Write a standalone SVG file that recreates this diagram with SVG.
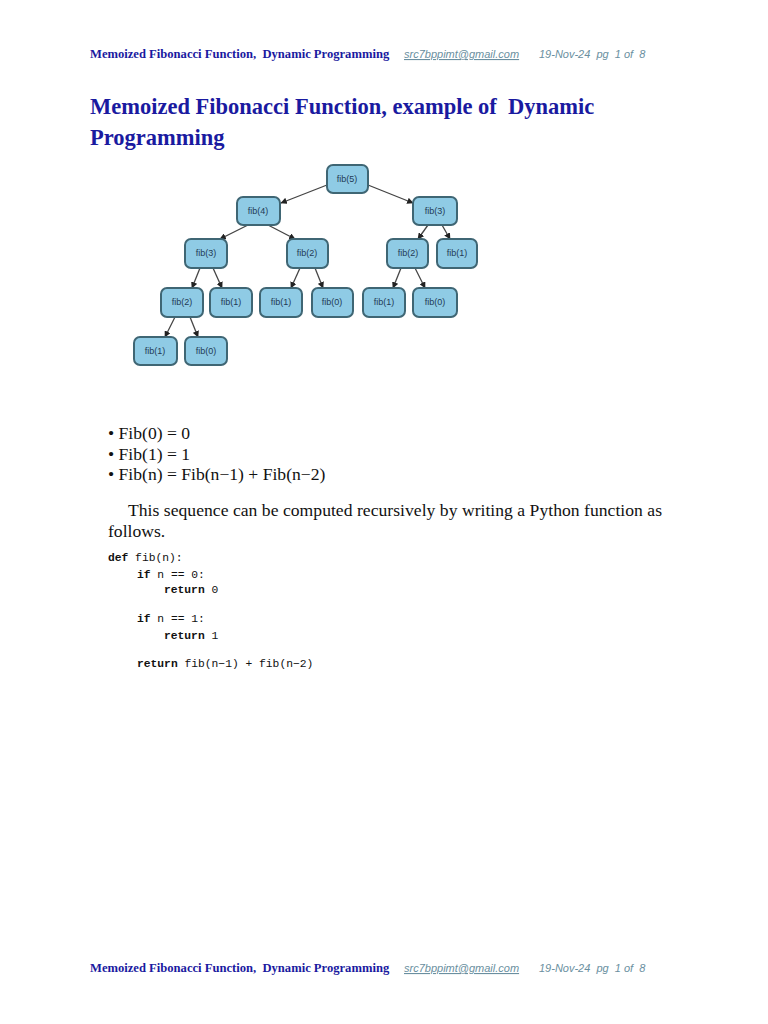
<svg xmlns="http://www.w3.org/2000/svg" width="768" height="1024" viewBox="0 0 768 1024">
<defs>
<marker id="ar" viewBox="0 0 10 10" refX="9" refY="5" markerWidth="5" markerHeight="5" orient="auto"><path d="M0,0 L10,5 L0,10 z" fill="#222"/></marker>
</defs>
<style>
.hd{font-family:"Liberation Serif",serif;font-weight:bold;font-size:12.6px;fill:#1a1aa0;white-space:pre}
.hm{font-family:"Liberation Sans",sans-serif;font-style:italic;font-size:11px;fill:#6a8fa0;white-space:pre}
.nd rect{fill:#8fcbe5;stroke:#3f6674;stroke-width:2}
.nd text{font-family:"Liberation Sans",sans-serif;font-size:9px;fill:#1f3a55;text-anchor:middle}
.cn line{stroke:#444;stroke-width:1.3;marker-end:url(#ar)}
.body{font-family:"Liberation Serif",serif;font-size:17.6px;fill:#111}
.code{font-family:"Liberation Mono",monospace;font-size:11.3px;fill:#111}
.kw{font-weight:bold}
</style>
<rect width="768" height="1024" fill="#fff"/>
<text class="hd" x="90" y="58">Memoized Fibonacci Function,  Dynamic Programming</text>
<text class="hm" x="404" y="58" text-decoration="underline">src7bppimt@gmail.com</text>
<text class="hm" x="539" y="58">19-Nov-24  pg  1 of  8</text>
<text font-family="Liberation Serif,serif" font-weight="bold" font-size="22.5" fill="#1a1aa0" x="90" y="114" style="white-space:pre">Memoized Fibonacci Function, example of  Dynamic</text>
<text font-family="Liberation Serif,serif" font-weight="bold" font-size="22.5" fill="#1a1aa0" x="90" y="145">Programming</text>
<g class="cn">
<line x1="327" y1="185" x2="281" y2="203"/>
<line x1="368" y1="185" x2="413" y2="203"/>
<line x1="248" y1="225" x2="220" y2="239"/>
<line x1="268" y1="225" x2="295" y2="239"/>
<line x1="428" y1="225" x2="418" y2="239"/>
<line x1="442" y1="225" x2="450" y2="239"/>
<line x1="200" y1="268" x2="192" y2="288"/>
<line x1="213" y1="268" x2="222" y2="288"/>
<line x1="300" y1="268" x2="291" y2="288"/>
<line x1="315" y1="268" x2="323" y2="288"/>
<line x1="401" y1="268" x2="393" y2="288"/>
<line x1="415" y1="268" x2="425" y2="288"/>
<line x1="175" y1="317" x2="165" y2="337"/>
<line x1="190" y1="317" x2="198" y2="337"/>
</g>
<g id="n5" class="nd"><rect x="327" y="165" width="41" height="28" rx="6"/><text x="347" y="182">fib(5)</text></g>
<g id="n4" class="nd"><rect x="237" y="197" width="43" height="28" rx="6"/><text x="258" y="214">fib(4)</text></g>
<g id="n3r" class="nd"><rect x="413" y="197" width="44" height="28" rx="6"/><text x="435" y="214">fib(3)</text></g>
<g id="n3" class="nd"><rect x="185" y="239" width="42" height="29" rx="6"/><text x="206" y="256">fib(3)</text></g>
<g id="n2a" class="nd"><rect x="287" y="239" width="41" height="29" rx="6"/><text x="307" y="256">fib(2)</text></g>
<g id="n2r" class="nd"><rect x="387" y="239" width="41" height="29" rx="6"/><text x="408" y="256">fib(2)</text></g>
<g id="n1r" class="nd"><rect x="437" y="239" width="40" height="29" rx="6"/><text x="457" y="256">fib(1)</text></g>
<g id="n2b" class="nd"><rect x="161" y="288" width="42" height="29" rx="6"/><text x="182" y="305">fib(2)</text></g>
<g id="n1a" class="nd"><rect x="210" y="288" width="42" height="29" rx="6"/><text x="231" y="305">fib(1)</text></g>
<g id="n1b" class="nd"><rect x="260" y="288" width="42" height="29" rx="6"/><text x="281" y="305">fib(1)</text></g>
<g id="n0a" class="nd"><rect x="312" y="288" width="41" height="29" rx="6"/><text x="332" y="305">fib(0)</text></g>
<g id="n1c" class="nd"><rect x="363" y="288" width="42" height="29" rx="6"/><text x="384" y="305">fib(1)</text></g>
<g id="n0b" class="nd"><rect x="413" y="288" width="44" height="29" rx="6"/><text x="435" y="305">fib(0)</text></g>
<g id="n1d" class="nd"><rect x="134" y="337" width="43" height="28" rx="6"/><text x="155" y="354">fib(1)</text></g>
<g id="n0c" class="nd"><rect x="185" y="337" width="42" height="28" rx="6"/><text x="206" y="354">fib(0)</text></g>
<text class="body" x="108" y="439">• Fib(0) = 0</text>
<text class="body" x="108" y="460">• Fib(1) = 1</text>
<text class="body" x="108" y="480">• Fib(n) = Fib(n−1) + Fib(n−2)</text>
<text class="body" x="128" y="516" textLength="534">This sequence can be computed recursively by writing a Python function as</text>
<text class="body" x="108" y="537">follows.</text>
<text class="code" x="108" y="561"><tspan class="kw">def</tspan> fib(n):</text>
<text class="code" x="137" y="578"><tspan class="kw">if</tspan> n == 0:</text>
<text class="code" x="164" y="593"><tspan class="kw">return</tspan> 0</text>
<text class="code" x="137" y="622"><tspan class="kw">if</tspan> n == 1:</text>
<text class="code" x="164" y="639"><tspan class="kw">return</tspan> 1</text>
<text class="code" x="137" y="667"><tspan class="kw">return</tspan> fib(n−1) + fib(n−2)</text>
<text class="hd" x="90" y="972">Memoized Fibonacci Function,  Dynamic Programming</text>
<text class="hm" x="404" y="972" text-decoration="underline">src7bppimt@gmail.com</text>
<text class="hm" x="539" y="972">19-Nov-24  pg  1 of  8</text>
</svg>
